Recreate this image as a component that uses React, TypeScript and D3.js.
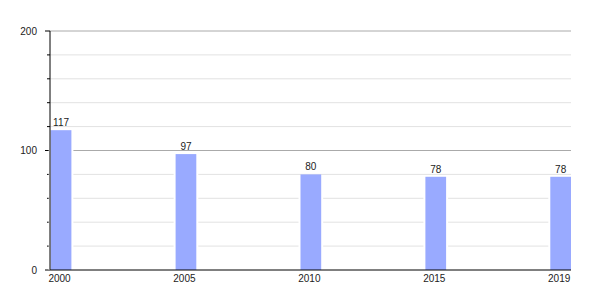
import React from "react";
import * as d3 from "d3";

const years = ["2000", "2005", "2010", "2015", "2019"];
const values = [117, 97, 80, 78, 78];
const majorTicks = [0, 100, 200];
const minorTicks = [20, 40, 60, 80, 120, 140, 160, 180];

export default function App() {
  const W = 600, H = 300;
  const left = 50, right = 571, top = 31, bottom = 270;
  const barW = 20.7;
  const y = d3.scaleLinear().domain([0, 200]).range([bottom, top]);
  const x = d3.scalePoint<string>().domain(years).range([left + 0.7, right - barW]);
  const font = "'Liberation Sans', Arial, sans-serif";
  return (
    <svg width={W} height={H} style={{ position: "absolute", left: 0, top: 0, background: "#fff" }}>
      {minorTicks.map((t) => (
        <g key={"m" + t}>
          <line x1={left} x2={right} y1={y(t)} y2={y(t)} stroke="#e2e2e2" strokeWidth={1} />
          <line x1={left - 3} x2={left} y1={y(t)} y2={y(t)} stroke="#000" strokeWidth={1} />
        </g>
      ))}
      {majorTicks.filter((t) => t > 0).map((t) => (
        <line key={"g" + t} x1={left} x2={right} y1={y(t)} y2={y(t)} stroke="#aaaaaa" strokeWidth={1} />
      ))}
      {majorTicks.map((t) => (
        <g key={"M" + t}>
          <line x1={left - 5} x2={left} y1={y(t)} y2={y(t)} stroke="#000" strokeWidth={1} />
          <text x={37} y={y(t) + 3.5} textAnchor="end" fontSize={10} fontFamily={font} fill="#222">{t}</text>
        </g>
      ))}
      {years.map((yr, i) => {
        const bx = x(yr)!;
        return (
          <g key={yr}>
            <rect x={bx - 2} y={y(values[i]) + 2} width={barW + 4} height={bottom - y(values[i]) - 2} fill="#fff" />
            <rect x={bx} y={y(values[i])} width={barW} height={bottom - y(values[i])} fill="#99aaff" />
            <text x={bx + barW / 2} y={y(values[i]) - 4} textAnchor="middle" fontSize={10} fontFamily={font} fill="#222">{values[i]}</text>
            <text x={bx + barW / 2 - 1.5} y={282} textAnchor="middle" fontSize={10} fontFamily={font} fill="#222">{yr}</text>
          </g>
        );
      })}
      <line x1={left} x2={left} y1={top} y2={bottom} stroke="#000" strokeWidth={1} />
      <line x1={left} x2={right} y1={bottom} y2={bottom} stroke="#000" strokeWidth={1} />
    </svg>
  );
}
